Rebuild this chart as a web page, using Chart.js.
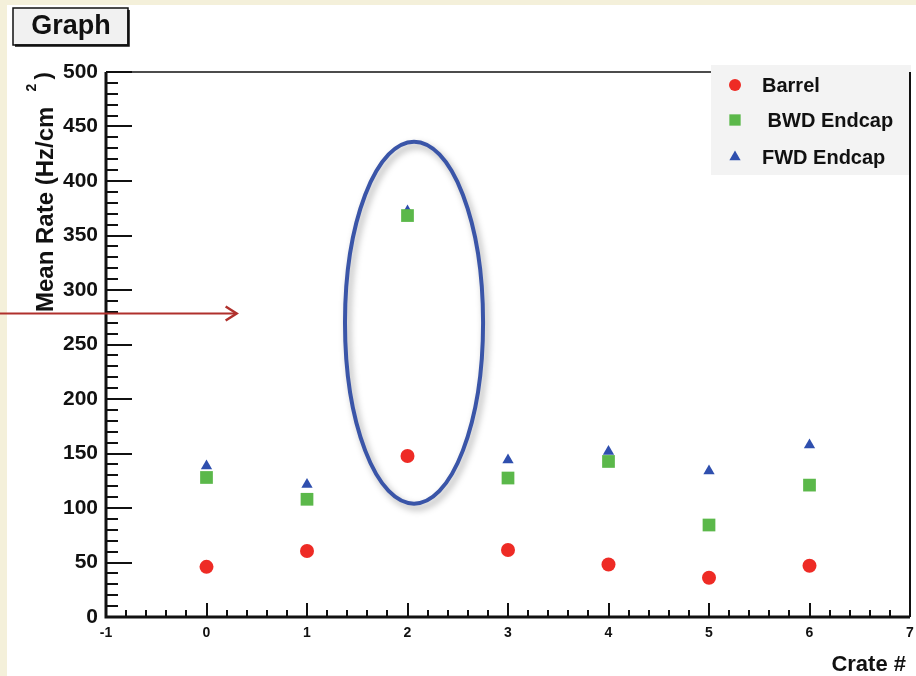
<!DOCTYPE html>
<html><head><meta charset="utf-8">
<script src="https://cdn.jsdelivr.net/npm/chart.js@4.4.1/dist/chart.umd.min.js"></script>
<style>html,body{margin:0;padding:0;background:#fff;overflow:hidden}canvas{display:block}</style>
</head><body>
<canvas id="c" width="919" height="676"></canvas>
<script>
// ---- data ----
const crates = [0, 1, 2, 3, 4, 5, 6];
const barrel = [46, 60.5, 147.7, 61.5, 48.2, 36, 47];
const bwdEndcap = [128, 108, 368.3, 127.5, 142.7, 84.4, 121];
const fwdEndcap = [138.5, 121.6, 372.5, 144, 151.8, 134, 157.8];
const seriesNames = ['Barrel', ' BWD Endcap', 'FWD Endcap'];
const xTicks = [-1, 0, 1, 2, 3, 4, 5, 6, 7];
const yTicks = [0, 50, 100, 150, 200, 250, 300, 350, 400, 450, 500];
const chartTitle = 'Graph';
const xTitle = 'Crate #';
const yTitle = 'Mean Rate (Hz/cm';

// annotation placement (data units)
const ellipseCenter = {x: 2.065, y: 270};
const ellipseRadius = {x: 0.687, y: 166};
const arrowY = 279, arrowToX = 0.3;

const FONT = "'Liberation Sans', Arial, Helvetica, sans-serif";
Chart.defaults.font.family = FONT;

const pts = (ys) => crates.map((c, i) => ({x: c, y: ys[i]}));

const decor = {
  id: 'decor',
  beforeDraw(chart) {
    const ctx = chart.ctx;
    ctx.save();
    ctx.fillStyle = '#f4f0da';
    ctx.fillRect(0, 0, chart.width, chart.height);
    ctx.fillStyle = '#ffffff';
    ctx.fillRect(7, 5, chart.width - 7, chart.height - 5);
    ctx.restore();
  },
  beforeDatasetsDraw(chart) {
    const ctx = chart.ctx, xs = chart.scales.x, ys = chart.scales.y, ca = chart.chartArea;
    ctx.save();
    ctx.strokeStyle = '#111';
    ctx.lineWidth = 2;
    for (let i = 0; i <= 40; i++) {
      const v = xTicks[0] + i * 0.2;
      const px = Math.round(xs.getPixelForValue(v));
      const len = i % 5 === 0 ? 14 : 7;
      ctx.beginPath(); ctx.moveTo(px, ca.bottom); ctx.lineTo(px, ca.bottom - len); ctx.stroke();
    }
    for (let i = 0; i <= 50; i++) {
      const v = i * 10;
      const py = Math.round(ys.getPixelForValue(v));
      const len = i % 5 === 0 ? 26 : 12;
      ctx.beginPath(); ctx.moveTo(ca.left, py); ctx.lineTo(ca.left + len, py); ctx.stroke();
    }
    ctx.lineWidth = 1.5;
    ctx.beginPath(); ctx.moveTo(ca.left, ca.top); ctx.lineTo(ca.right, ca.top); ctx.stroke();
    ctx.lineWidth = 3;
    ctx.beginPath(); ctx.moveTo(ca.left, ca.top); ctx.lineTo(ca.left, ca.bottom); ctx.lineTo(ca.right, ca.bottom); ctx.stroke();
    ctx.restore();
  },
  afterDraw(chart) {
    const ctx = chart.ctx, xs = chart.scales.x, ys = chart.scales.y, ca = chart.chartArea;
    ctx.save();
    const cx = xs.getPixelForValue(ellipseCenter.x), cy = ys.getPixelForValue(ellipseCenter.y);
    const rx = xs.getPixelForValue(ellipseCenter.x + ellipseRadius.x) - cx;
    const ry = cy - ys.getPixelForValue(ellipseCenter.y + ellipseRadius.y);
    ctx.save();
    ctx.shadowColor = 'rgba(0,0,0,0.35)';
    ctx.shadowBlur = 7; ctx.shadowOffsetX = 3; ctx.shadowOffsetY = 4;
    ctx.strokeStyle = '#3a55a8'; ctx.lineWidth = 4;
    ctx.beginPath(); ctx.ellipse(cx, cy, rx, ry, 0, 0, Math.PI * 2); ctx.stroke();
    ctx.restore();
    const ay = Math.round(ys.getPixelForValue(arrowY)) + 0.5;
    const ax = xs.getPixelForValue(arrowToX);
    ctx.strokeStyle = '#b0302c'; ctx.lineWidth = 2;
    ctx.beginPath(); ctx.moveTo(0, ay); ctx.lineTo(ax - 1, ay); ctx.stroke();
    ctx.lineWidth = 2.5;
    ctx.beginPath(); ctx.moveTo(ax - 11, ay - 7); ctx.lineTo(ax, ay); ctx.lineTo(ax - 11, ay + 7); ctx.stroke();

    ctx.fillStyle = '#f3f3f3';
    ctx.fillRect(711, 65, 200, 110);
    ctx.strokeStyle = '#111'; ctx.lineWidth = 2;
    ctx.beginPath(); ctx.moveTo(ca.right, ca.top); ctx.lineTo(ca.right, ca.bottom); ctx.stroke();
    const rowsY = [85, 120, 157];
    const textX = [762, 762, 762];
    ctx.font = 'bold 20px ' + FONT;
    ctx.textBaseline = 'middle'; ctx.textAlign = 'left';
    chart.data.datasets.forEach((ds, i) => {
      ctx.fillStyle = ds.backgroundColor;
      Chart.helpers.drawPoint(ctx, {pointStyle: ds.pointStyle, radius: ds.legendRadius, rotation: 0, borderWidth: 0}, 735, rowsY[i]);
      ctx.fillStyle = '#111';
      ctx.fillText(ds.label, textX[i], rowsY[i] + 1);
    });

    ctx.fillStyle = '#f1f1f1';
    ctx.fillRect(13, 8, 115, 37);
    ctx.strokeStyle = '#111'; ctx.lineWidth = 1.5;
    ctx.strokeRect(13, 8, 115, 37);
    ctx.lineWidth = 2.5;
    ctx.beginPath(); ctx.moveTo(15, 45.5); ctx.lineTo(128.5, 45.5); ctx.lineTo(128.5, 10); ctx.stroke();
    ctx.fillStyle = '#111';
    ctx.font = 'bold 27px ' + FONT;
    ctx.textAlign = 'center'; ctx.textBaseline = 'middle';
    ctx.fillText(chartTitle, 71, 27);

    ctx.font = 'bold 22px ' + FONT;
    ctx.textAlign = 'right'; ctx.textBaseline = 'alphabetic';
    ctx.fillText(xTitle, 906, 671);

    ctx.save();
    ctx.translate(53, 312);
    ctx.rotate(-Math.PI / 2);
    ctx.textAlign = 'left'; ctx.textBaseline = 'alphabetic';
    ctx.font = 'bold 24px ' + FONT;
    ctx.fillText(yTitle, 0, 0);
    const w = ctx.measureText(yTitle).width;
    ctx.font = 'bold 14px ' + FONT;
    ctx.fillText('2', w + 15, -17);
    ctx.font = 'bold 22px ' + FONT;
    ctx.fillText(')', w + 27, -3);
    ctx.restore();
    ctx.restore();
  }
};

new Chart(document.getElementById('c'), {
  type: 'scatter',
  data: {
    datasets: [
      {label: seriesNames[0], data: pts(barrel), pointStyle: 'circle', pointRadius: 7, legendRadius: 6,
       backgroundColor: '#ee2b25', borderColor: '#ee2b25', borderWidth: 0},
      {label: seriesNames[1], data: pts(bwdEndcap), pointStyle: 'rect', pointRadius: 9, legendRadius: 8,
       backgroundColor: '#5bb84a', borderColor: '#5bb84a', borderWidth: 0},
      {label: seriesNames[2], data: pts(fwdEndcap), pointStyle: 'triangle', pointRadius: 6.5, legendRadius: 6.5,
       backgroundColor: '#2f4fae', borderColor: '#2f4fae', borderWidth: 0}
    ]
  },
  options: {
    responsive: false, animation: false, devicePixelRatio: 1,
    layout: {padding: {top: 72, right: 3, bottom: 0, left: 0}},
    plugins: {legend: {display: false}, tooltip: {enabled: false}, title: {display: false}},
    scales: {
      x: {
        type: 'linear', position: 'bottom', min: xTicks[0], max: xTicks[xTicks.length - 1],
        grid: {display: false, drawTicks: false}, border: {display: false},
        afterBuildTicks: s => { s.ticks = xTicks.map(v => ({value: v})); },
        afterFit: s => { s.height = 59; s.paddingRight = 0; s.paddingLeft = 0; },
        ticks: {font: {size: 14, weight: 'bold'}, color: '#111', padding: 8, maxRotation: 0, autoSkip: false,
                callback: v => String(v)}
      },
      y: {
        type: 'linear', position: 'left', min: yTicks[0], max: yTicks[yTicks.length - 1],
        grid: {display: false, drawTicks: false}, border: {display: false},
        afterBuildTicks: s => { s.ticks = yTicks.map(v => ({value: v})); },
        afterFit: s => { s.width = 106; s.paddingTop = 0; s.paddingBottom = 0; },
        ticks: {font: {size: 21, weight: 'bold'}, color: '#111', padding: 8, autoSkip: false,
                callback: v => String(v)}
      }
    }
  },
  plugins: [decor]
});
</script>
</body></html>
